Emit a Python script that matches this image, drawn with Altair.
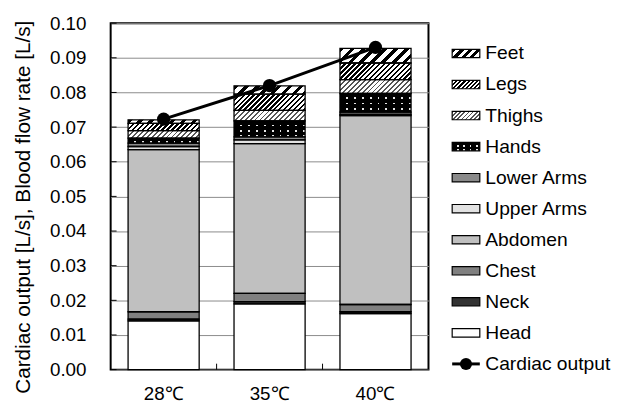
import altair as alt
import pandas as pd

# ---------------- data ----------------
temps = ["28℃", "35℃", "40℃"]
parts = ["Head", "Neck", "Chest", "Abdomen", "Upper Arms", "Lower Arms",
         "Hands", "Thighs", "Legs", "Feet"]
head = [0.0141, 0.0190, 0.0162]
neck = [0.0005, 0.0006, 0.0005]
chest = [0.0021, 0.0024, 0.0021]
abdomen = [0.0468, 0.0432, 0.0545]
upper_arms = [0.0009, 0.0011, 0.0004]
lower_arms = [0.0010, 0.0009, 0.0006]
hands = [0.0014, 0.0046, 0.0054]
thighs = [0.0022, 0.0030, 0.0040]
legs = [0.0021, 0.0047, 0.0048]
feet = [0.0010, 0.0024, 0.0042]
cardiac_output = [0.0723, 0.0820, 0.0930]
y_ticks = [0.00, 0.01, 0.02, 0.03, 0.04, 0.05, 0.06, 0.07, 0.08, 0.09, 0.10]
legend_names = ["Feet", "Legs", "Thighs", "Hands", "Lower Arms", "Upper Arms",
                "Abdomen", "Chest", "Neck", "Head", "Cardiac output"]

series = [head, neck, chest, abdomen, upper_arms, lower_arms, hands, thighs, legs, feet]
rows = []
for pi, (p, vals) in enumerate(zip(parts, series)):
    for ti, t in enumerate(temps):
        rows.append({"temp": t, "ti": ti, "part": p, "order": pi,
                     "value": vals[ti], "key": f"{p}|{ti}"})
df = pd.DataFrame(rows)
df_co = pd.DataFrame({"temp": temps, "co": cardiac_output})
df_ticks = pd.DataFrame({"v": y_ticks})
df_bound = pd.DataFrame({"temp": temps[1:]})
df_leg = pd.DataFrame({"name": legend_names})

# ---------------- layout / style ----------------
FONT = "Liberation Sans"
W, H = 322, 351
YMAX = 0.10
P_IN, P_OUT = 0.329, 0.1645
STEP = W / (3 - P_IN + 2 * P_OUT)
BAR_W = STEP * (1 - P_IN)
TRANSP = "rgba(0,0,0,0)"
LEG_W, LEG_STEP, LEG_TOP = 168, 31.45, 15.0
LEG_PAD = 0.73
LW = 28
LH = LEG_STEP * (1 - LEG_PAD)


def _stops(n, frac, c1, c2):
    stops = []
    i = 0
    while i < n:
        a = i / n
        b = min((i + frac) / n, 1.0)
        c = min((i + 1) / n, 1.0)
        stops += [{"offset": round(a, 5), "color": c1},
                  {"offset": round(b, 5), "color": c1},
                  {"offset": round(b, 5), "color": c2},
                  {"offset": round(c, 5), "color": c2}]
        i += 1
    return stops


def diag(w, h, period, frac, c1, c2):
    k = h / w
    s = (1 + k) / (1 + k * k)
    n = w * (1 + k) / period
    return {"gradient": "linear", "x1": 0, "y1": 0,
            "x2": round(s, 5), "y2": round(s * k, 5), "stops": _stops(n, frac, c1, c2)}


def bands(length, period, frac, c1, c2, vertical):
    n = max(length / period, 1.0)
    g = {"gradient": "linear", "x1": 0, "y1": 0, "stops": _stops(n, frac, c1, c2)}
    if vertical:
        g.update({"x2": 0, "y2": 1})
    else:
        g.update({"x2": 1, "y2": 0})
    return g


solid = {"Head": "white", "Neck": "#333333", "Chest": "#808080",
         "Abdomen": "#c0c0c0", "Upper Arms": "#e2e2e2", "Lower Arms": "#8a8a8a",
         "Hands": "#e6e6e6"}
hatch = {"Feet": (11, 0.42, "black", "white"),
         "Legs": (5, 0.5, "black", "white"),
         "Thighs": (5, 0.38, "#555555", "white")}

fill_conds = []
rows_conds = []
for p, vals in zip(parts, series):
    for ti in range(3):
        h = vals[ti] / YMAX * H
        key = f"{p}|{ti}"
        if p in hatch:
            per, fr, c1, c2 = hatch[p]
            fill_conds.append({"test": f"datum.key === '{key}'",
                               "value": diag(BAR_W, h, per, fr, c1, c2)})
        elif p == "Hands":
            rows_conds.append({"test": f"datum.key === '{key}'",
                               "value": bands(h, 5.5, 0.68, "black", TRANSP, True)})
for p, c in solid.items():
    fill_conds.append({"test": f"datum.part === '{p}'", "value": c})

cols_fill = bands(BAR_W, 8, 0.76, "black", TRANSP, False)

# ---------------- main chart ----------------
x_scale = alt.Scale(paddingInner=P_IN, paddingOuter=P_OUT)
x_axis = alt.Axis(title=None, labelFontSize=19, labelPadding=15, ticks=False,
                  domain=False, labelAngle=0, labelColor="black", labelFont=FONT)
x_enc = alt.X("temp:N", sort=temps, scale=x_scale, axis=x_axis)
y_scale = alt.Scale(domain=[0, YMAX], nice=False, zero=True)
y_axis = alt.Axis(values=y_ticks, format=".2f", labelFontSize=19, labelFont=FONT,
                  labelColor="black", labelPadding=25, ticks=False, tickSize=0,
                  domain=False, grid=True, gridColor="#8a8a8a", gridWidth=1,
                  title="Cardiac output [L/s], Blood flow rate [L/s]",
                  titleFont=FONT, titleFontSize=21, titleFontWeight="normal",
                  titleColor="black", titleAngle=270, titleBaseline="alphabetic",
                  titleX=-82, titleY=186, titleAlign="center")

stacked = alt.Chart(df).transform_stack(
    stack="value", groupby=["temp"], as_=["y0", "y1"],
    sort=[alt.SortField("order", order="ascending")])

base_bars = stacked.mark_bar(strokeWidth=0).encode(
    x=x_enc, y=alt.Y("y1:Q", scale=y_scale, axis=y_axis), y2="y0:Q",
    fill={"condition": fill_conds, "value": "white"})

hands_cols = stacked.transform_filter("datum.part === 'Hands'").mark_bar(
    strokeWidth=0, fill=cols_fill).encode(
    x=x_enc, y=alt.Y("y1:Q", scale=y_scale, axis=y_axis), y2="y0:Q")

hands_rows = stacked.transform_filter("datum.part === 'Hands'").mark_bar(
    strokeWidth=0).encode(
    x=x_enc, y=alt.Y("y1:Q", scale=y_scale, axis=y_axis), y2="y0:Q",
    fill={"condition": rows_conds, "value": TRANSP})

outline = stacked.mark_bar(fillOpacity=0, stroke="black", strokeWidth=1.3).encode(
    x=x_enc, y=alt.Y("y1:Q", scale=y_scale, axis=y_axis), y2="y0:Q")

y_tick_marks = alt.Chart(df_ticks).mark_rule(color="black", strokeWidth=1).encode(
    y=alt.Y("v:Q", scale=y_scale, axis=y_axis), x=alt.value(0), x2=alt.value(6))

x_tick_marks = alt.Chart(df_bound).mark_rule(
    color="black", strokeWidth=1, xOffset=-STEP * P_IN / 2).encode(
    x=alt.X("temp:N", sort=temps, bandPosition=0, scale=x_scale, axis=x_axis),
    y=alt.value(H), y2=alt.value(H - 6))

line = alt.Chart(df_co).mark_line(color="black", strokeWidth=3).encode(
    x=x_enc, y=alt.Y("co:Q", scale=y_scale, axis=y_axis))
points = alt.Chart(df_co).mark_point(filled=True, size=180, color="black", opacity=1).encode(
    x=x_enc, y=alt.Y("co:Q", scale=y_scale, axis=y_axis))

main = alt.layer(
    base_bars, hands_cols, hands_rows, outline, y_tick_marks, x_tick_marks, line, points
).properties(width=W, height=H,
             view=alt.ViewBackground(stroke="black", strokeWidth=2))

# ---------------- legend (drawn as its own small panel) ----------------
leg_fill = [
    {"test": "datum.name === 'Feet'", "value": diag(LW, LH, 8.5, 0.5, "black", "white")},
    {"test": "datum.name === 'Legs'", "value": diag(LW, LH, 4.2, 0.5, "black", "white")},
    {"test": "datum.name === 'Thighs'", "value": diag(LW, LH, 4.2, 0.38, "#555555", "white")},
    {"test": "datum.name === 'Hands'", "value": "#e6e6e6"},
    {"test": "datum.name === 'Lower Arms'", "value": "#8a8a8a"},
    {"test": "datum.name === 'Upper Arms'", "value": "#e2e2e2"},
    {"test": "datum.name === 'Abdomen'", "value": "#c0c0c0"},
    {"test": "datum.name === 'Chest'", "value": "#808080"},
    {"test": "datum.name === 'Neck'", "value": "#333333"},
]
ly_scale = alt.Scale(domain=legend_names, range=[LEG_TOP, LEG_TOP + LEG_STEP * len(legend_names)],
                     paddingInner=LEG_PAD, paddingOuter=LEG_PAD / 2)
ly = alt.Y("name:N", sort=legend_names, scale=ly_scale, axis=None)
leg_base = alt.Chart(df_leg)
not_co = "datum.name !== 'Cardiac output'"

leg_sw = leg_base.transform_filter(not_co).mark_rect(strokeWidth=0).encode(
    y=ly, x=alt.value(0), x2=alt.value(LW),
    fill={"condition": leg_fill, "value": "white"})
leg_cols = leg_base.transform_filter("datum.name === 'Hands'").mark_rect(
    strokeWidth=0, fill=bands(LW, 6.5, 0.72, "black", TRANSP, False)).encode(
    y=ly, x=alt.value(0), x2=alt.value(LW))
leg_rows = leg_base.transform_filter("datum.name === 'Hands'").mark_rect(
    strokeWidth=0, fill=bands(LH, 4.2, 0.62, "black", TRANSP, True)).encode(
    y=ly, x=alt.value(0), x2=alt.value(LW))
leg_out = leg_base.transform_filter(not_co).mark_rect(
    fillOpacity=0, stroke="black", strokeWidth=1.2).encode(
    y=ly, x=alt.value(0), x2=alt.value(LW))
leg_line = leg_base.transform_filter("datum.name === 'Cardiac output'").mark_rule(
    color="black", strokeWidth=3).encode(y=ly, x=alt.value(0), x2=alt.value(LW))
leg_dot = leg_base.transform_filter("datum.name === 'Cardiac output'").mark_point(
    filled=True, size=150, color="black", opacity=1).encode(y=ly, x=alt.value(LW / 2))
leg_txt = leg_base.mark_text(align="left", baseline="middle", fontSize=19.5, font=FONT,
                             color="black").encode(
    y=ly, x=alt.value(LW + 5.5), text="name:N")

legend = alt.layer(leg_sw, leg_cols, leg_rows, leg_out, leg_line, leg_dot, leg_txt).properties(
    width=LEG_W, height=H, view=alt.ViewBackground(strokeWidth=0))

chart = alt.hconcat(main, legend, spacing=21).properties(
    padding={"left": 3, "top": 2.75, "right": 0, "bottom": 0},
    background="white",
).configure_view(strokeWidth=0)

chart.save("out.html", embed_options={"renderer": "svg", "actions": False})
